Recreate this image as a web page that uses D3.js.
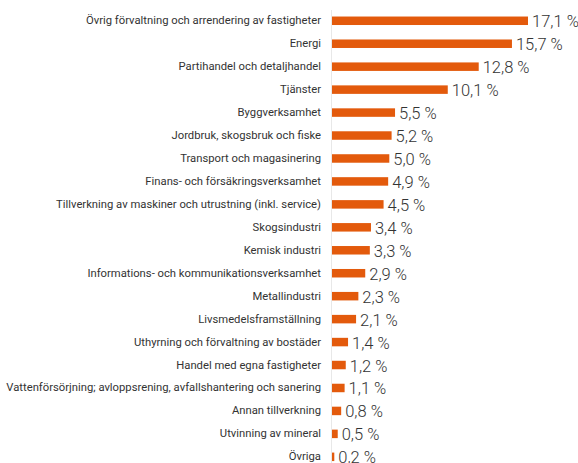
<!DOCTYPE html>
<html>
<head>
<meta charset="utf-8">
<script src="https://cdn.jsdelivr.net/npm/d3@7"></script>
<style>
  body { margin: 0; background: #fff; }
  svg { display: block; }
</style>
</head>
<body>
<svg id="chart" width="578" height="463"></svg>
<script>
let width = 578;
let height = 463;

let categories = [
    "Övrig förvaltning och arrendering av fastigheter",
    "Energi",
    "Partihandel och detaljhandel",
    "Tjänster",
    "Byggverksamhet",
    "Jordbruk, skogsbruk och fiske",
    "Transport och magasinering",
    "Finans- och försäkringsverksamhet",
    "Tillverkning av maskiner och utrustning (inkl. service)",
    "Skogsindustri",
    "Kemisk industri",
    "Informations- och kommunikationsverksamhet",
    "Metallindustri",
    "Livsmedelsframställning",
    "Uthyrning och förvaltning av bostäder",
    "Handel med egna fastigheter",
    "Vattenförsörjning; avloppsrening, avfallshantering och sanering",
    "Annan tillverkning",
    "Utvinning av mineral",
    "Övriga"
];
let values = [17.1, 15.7, 12.8, 10.1, 5.5, 5.2, 5.0, 4.9, 4.5, 3.4, 3.3, 2.9, 2.3, 2.1, 1.4, 1.2, 1.1, 0.8, 0.5, 0.2];

let orange = "#e35a0c";
let x0 = 332;

let svg = d3.select("#chart");

let x = d3.scaleLinear()
    .domain([0, 17.1])
    .range([x0, 528]);

let y = d3.scaleBand()
    .domain(categories)
    .range([9.3, 468.3])
    .paddingInner(0.63)
    .paddingOuter(0.315);

// faint axis line
svg.append("line")
    .attr("x1", x0 - 0.5)
    .attr("x2", x0 - 0.5)
    .attr("y1", 10)
    .attr("y2", height)
    .style("stroke", "#e8e8e8")
    .style("stroke-width", 1);

svg.selectAll(".bar")
    .data(values)
    .enter().append("rect")
    .attr("class", "bar")
    .attr("x", x0)
    .attr("y", (d, i) => y(categories[i]))
    .attr("width", d => x(d) - x0)
    .attr("height", y.bandwidth())
    .attr("fill", orange);

svg.selectAll(".cat")
    .data(categories)
    .enter().append("text")
    .attr("class", "cat")
    .attr("x", 321)
    .attr("y", d => y(d) + y.bandwidth() / 2)
    .attr("text-anchor", "end")
    .attr("dominant-baseline", "central")
    .style("font-family", "Roboto, sans-serif")
    .style("font-size", "11.25px")
    .style("fill", "#333")
    .text(d => d);

svg.selectAll(".val")
    .data(values)
    .enter().append("text")
    .attr("class", "val")
    .attr("x", d => x(d) + 4)
    .attr("y", (d, i) => y(categories[i]) + y.bandwidth() / 2 + 1)
    .attr("text-anchor", "start")
    .attr("dominant-baseline", "central")
    .style("font-family", "Roboto, sans-serif")
    .style("font-weight", 300)
    .style("font-size", "16.5px")
    .style("fill", "#333")
    .text(d => d.toFixed(1).replace(".", ",") + " %");
</script>
</body>
</html>
